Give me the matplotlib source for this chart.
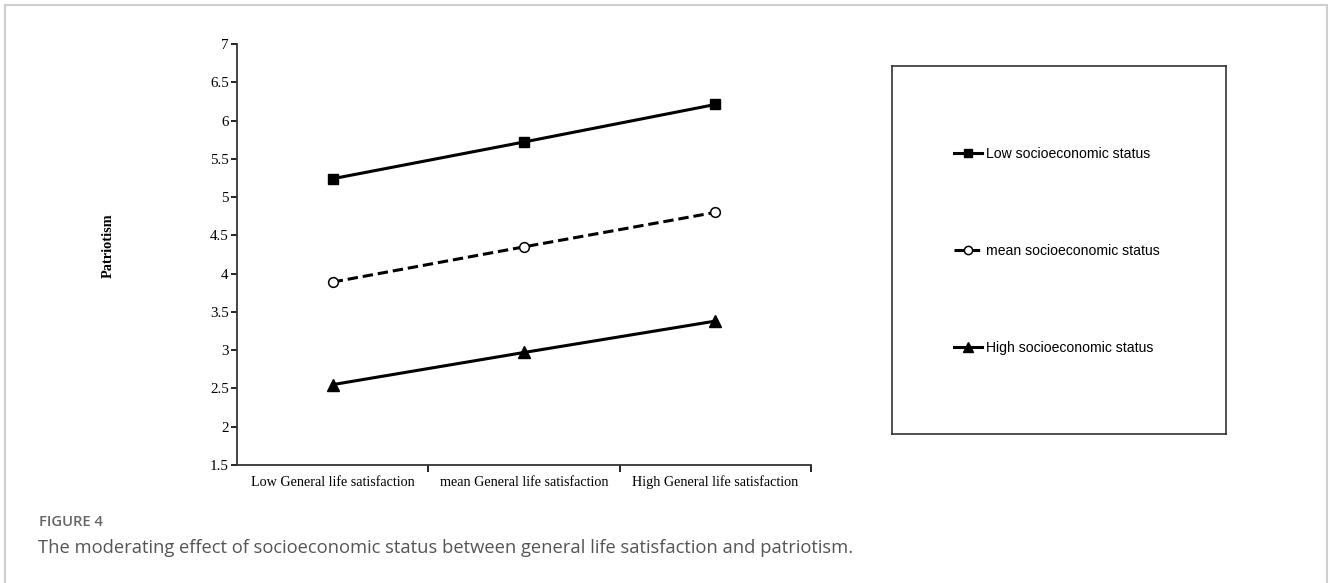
import matplotlib
matplotlib.use("Agg")
import matplotlib.pyplot as plt
from matplotlib.patches import Rectangle
import numpy as np

categories = ["Low General life satisfaction", "mean General life satisfaction", "High General life satisfaction"]
series_names = ["Low socioeconomic status", "mean socioeconomic status", "High socioeconomic status"]
low_ses = [5.24, 5.72, 6.21]
mean_ses = [3.89, 4.35, 4.80]
high_ses = [2.55, 2.97, 3.38]
y_ticks = [1.5, 2, 2.5, 3, 3.5, 4, 4.5, 5, 5.5, 6, 6.5, 7]
y_tick_labels = ["1.5", "2", "2.5", "3", "3.5", "4", "4.5", "5", "5.5", "6", "6.5", "7"]

W, H = 1330, 583
fig = plt.figure(figsize=(W / 100, H / 100), dpi=100)
fig.patch.set_facecolor("white")

# outer frame
fig.add_artist(Rectangle((5 / W, -0.05), (1327 - 5) / W, 1.05 - 5 / H,
                         transform=fig.transFigure, fill=False,
                         edgecolor="#cfcfcf", linewidth=1.5))

serif = ["Liberation Serif", "DejaVu Serif"]
sans = ["Liberation Sans", "DejaVu Sans"]

ax = fig.add_axes([237 / W, 1 - 465 / H, (811 - 237) / W, (465 - 44) / H])
x = np.arange(len(categories)) + 0.5
ax.plot(x, low_ses, color="black", lw=2.2, marker="s", ms=7.5,
        mfc="black", mec="black", label=series_names[0])
ax.plot(x, mean_ses, color="black", lw=2.2, ls=(0, (3.4, 1.6)), marker="o", ms=7,
        mfc="white", mec="black", mew=1.1, label=series_names[1])
ax.plot(x, high_ses, color="black", lw=2.2, marker="^", ms=8,
        mfc="black", mec="black", label=series_names[2])

ax.set_xlim(0, 3)
ax.set_ylim(1.5, 7)
ax.set_yticks(y_ticks)
ax.set_yticklabels(y_tick_labels, fontfamily=serif, fontsize=10.8)
ax.set_xticks(x)
ax.set_xticklabels(categories, fontfamily=serif, fontsize=10.2)
for lbl in ax.get_xticklabels():
    lbl.set_verticalalignment("baseline")
ax.set_xticks([1, 2, 3], minor=True)
ax.tick_params(axis="x", which="major", length=0, pad=15)
ax.tick_params(axis="x", which="minor", length=5, width=1.2, direction="out")
ax.tick_params(axis="y", length=4, width=1.2, direction="out", pad=2)
for s in ["top", "right"]:
    ax.spines[s].set_visible(False)
for s in ["left", "bottom"]:
    ax.spines[s].set_linewidth(1.3)
    ax.spines[s].set_color("#333333")

fig.text(108 / W, 1 - 246 / H, "Patriotism", fontfamily=serif, fontweight="bold",
         fontsize=10.3, rotation=90, ha="center", va="center")

# legend box
lax = fig.add_axes([892 / W, 1 - 434 / H, (1226 - 892) / W, (434 - 66) / H])
lax.set_xticks([])
lax.set_yticks([])
for s in lax.spines.values():
    s.set_linewidth(1.2)
    s.set_color("#333333")
handles, labels = ax.get_legend_handles_labels()
leg = lax.legend(handles, labels, loc="center left",
                 bbox_to_anchor=((954 - 892) / (1226 - 892), 1 - (251 - 66) / (434 - 66)),
                 frameon=False, prop={"family": sans, "size": 10.1},
                 handlelength=2.0, handletextpad=0.25, labelspacing=5.9,
                 borderaxespad=0, borderpad=0, markerscale=0.85)

fig.text(39 / W, 1 - 522 / H, "FIGURE 4", fontfamily=["Open Sans", "DejaVu Sans"],
         fontsize=10.6, fontweight="semibold", color="#666666", va="center", ha="left")
fig.text(38 / W, 1 - 548 / H,
         "The moderating effect of socioeconomic status between general life satisfaction and patriotism.",
         fontfamily=["Open Sans", "DejaVu Sans"], fontsize=13.2, color="#555555",
         va="center", ha="left")

fig.savefig("out.png", dpi=100, facecolor="white")
